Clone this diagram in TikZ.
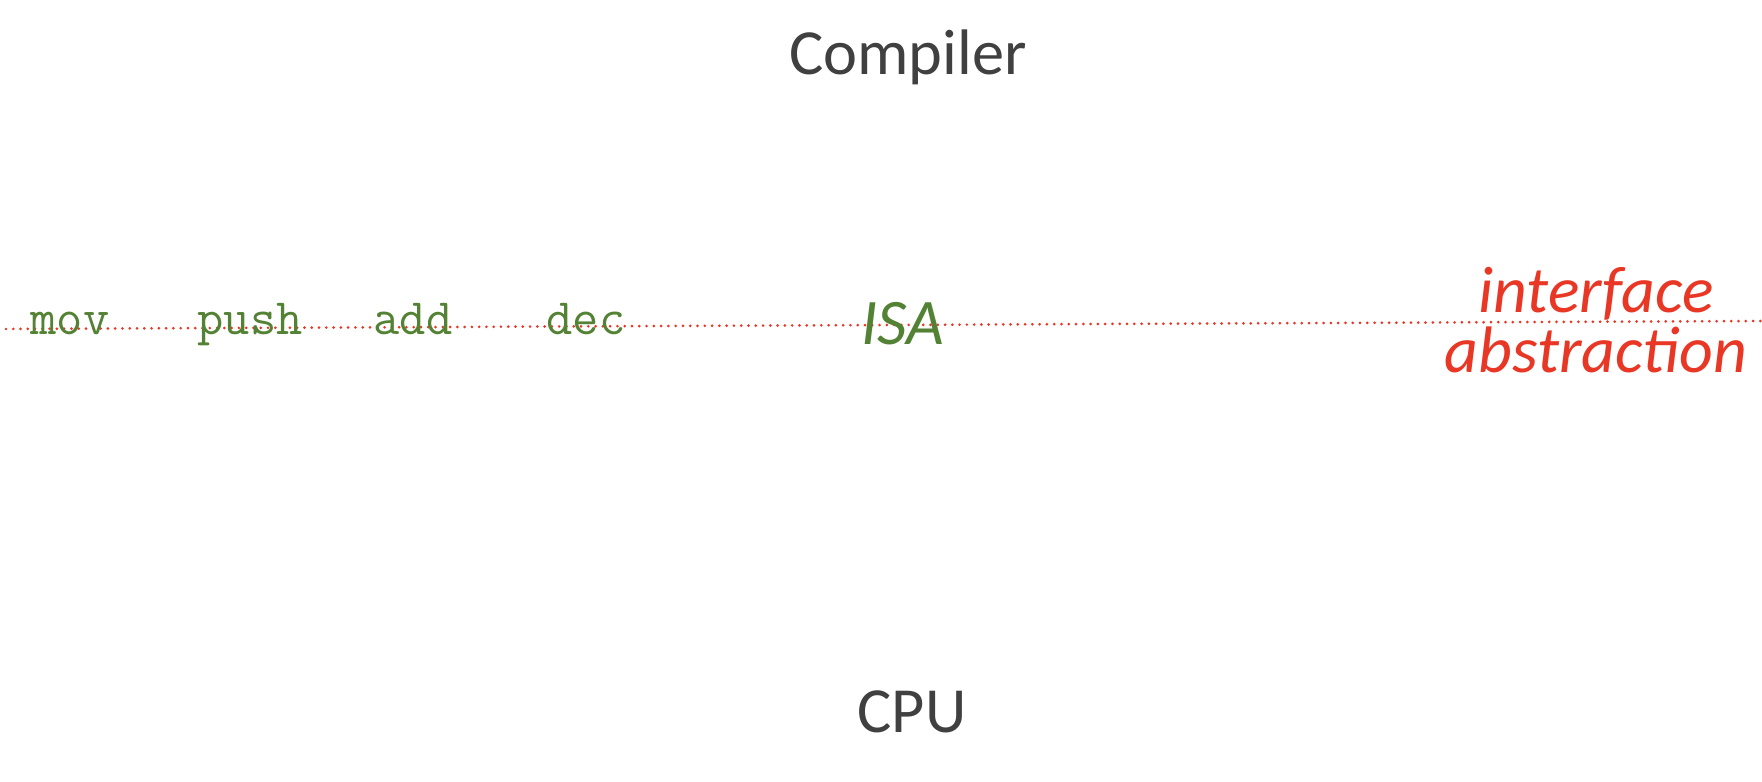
\documentclass[tikz,border=0pt]{standalone}
\usepackage{fontspec}
\setmainfont{Carlito}
\definecolor{textgray}{RGB}{64,64,64}
\definecolor{isagreen}{RGB}{84,130,53}
\definecolor{isared}{RGB}{233,55,38}
\begin{document}
\begin{tikzpicture}[x=0.01cm, y=0.01cm, line cap=round]
	\tikzset{layer style/.style={font=\fontsize{18.3}{22}\selectfont, text=textgray, anchor=base, inner sep=0pt},
		op style/.style={font=\ttfamily\fontsize{14.5}{17}\selectfont, text=isagreen, anchor=base, inner sep=0pt},
		isa style/.style={font=\itshape\fontsize{18.5}{22}\selectfont, text=isagreen, anchor=base, inner sep=0pt},
		note style/.style={font=\itshape\fontsize{18.7}{17}\selectfont, text=isared, align=center, inner sep=0pt},
		dotline/.style={isared, line width=0.85pt, dash pattern=on 0pt off 2.07pt}}
	\useasboundingbox (0,0) rectangle (1762,781);
	\path (6,452) coordinate (L)
	(1762,460) coordinate (R)
	;
	\draw[dotline] (L) -- (R);
	\node[layer style] (compiler) at (908,706) {Compiler};
	\node[layer style] (cpu) at (912,48) {CPU};
	\node[isa style] (isa) at (903,436) {ISA};
	\node[note style, anchor=base] (note) at (1596,409) {interface\\abstraction};
	\foreach \n/\x in {mov/70,push/250,add/413,dec/586}
	\node[op style] (\n) at (\x,446) {\n};
\end{tikzpicture}
\end{document}
